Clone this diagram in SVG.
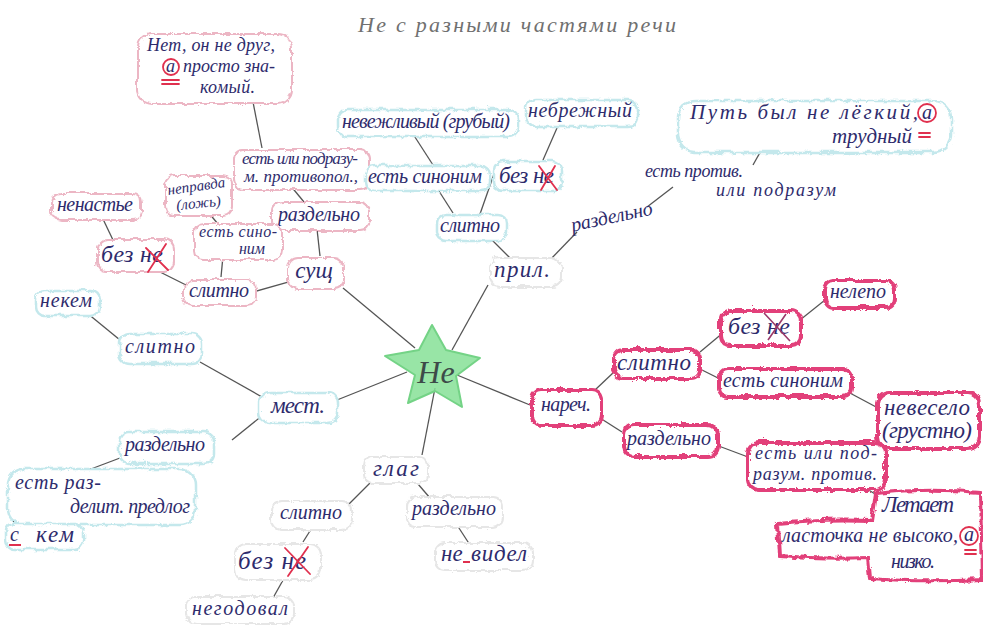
<svg xmlns="http://www.w3.org/2000/svg" width="983" height="625" viewBox="0 0 983 625">
<style>
.t{font-family:"Liberation Serif","DejaVu Serif",serif;font-style:italic;font-size:20px;fill:#2e2b6c;text-anchor:middle}
.s{text-anchor:start}
.b{font-size:23px}
.title{font-family:"Liberation Serif","DejaVu Serif",serif;font-style:italic;font-size:22px;fill:#707070}
.red{fill:#fff;stroke:#e2407a;stroke-width:4}
.pink{fill:#fff;stroke:#ecb6c4;stroke-width:2}
.cyan{fill:#fff;stroke:#c4e8ec;stroke-width:2.5}
.grey{fill:#fff;stroke:#e6e6e6;stroke-width:2}
.mark{fill:none;stroke:#e0304e;stroke-width:1.8;stroke-linecap:round}
#connectors line{stroke:#555;stroke-width:1.3}
</style>
<defs>
<filter id="wob" x="-15%" y="-30%" width="130%" height="160%">
<feTurbulence type="turbulence" baseFrequency="0.09" numOctaves="1" seed="3" result="n"/>
<feDisplacementMap in="SourceGraphic" in2="n" scale="5" xChannelSelector="R" yChannelSelector="G"/>
</filter>
</defs>
<rect width="983" height="625" fill="#fff"/>
<text class="title" x="358" y="32" textLength="318">Не  с разными   частями речи</text>

<g id="connectors">
<line x1="343" y1="288" x2="415" y2="348"/>
<line x1="488" y1="285" x2="452" y2="350"/>
<line x1="337" y1="400" x2="407" y2="372"/>
<line x1="422" y1="455" x2="435" y2="388"/>
<line x1="530" y1="405" x2="457" y2="375"/>
<line x1="288" y1="282" x2="253" y2="292"/>
<line x1="320" y1="256" x2="317" y2="229"/>
<line x1="304" y1="202" x2="290" y2="185"/>
<line x1="262" y1="148" x2="253" y2="102"/>
<line x1="190" y1="287" x2="150" y2="267"/>
<line x1="221" y1="277" x2="223" y2="256"/>
<line x1="218" y1="224" x2="208" y2="212"/>
<line x1="113" y1="240" x2="102" y2="217"/>
<line x1="510" y1="258" x2="490" y2="238"/>
<line x1="548" y1="262" x2="577" y2="232"/>
<line x1="453" y1="213" x2="437" y2="188"/>
<line x1="433" y1="165" x2="413" y2="134"/>
<line x1="480" y1="214" x2="494" y2="174"/>
<line x1="543" y1="160" x2="557" y2="128"/>
<line x1="647" y1="207" x2="673" y2="187"/>
<line x1="753" y1="165" x2="767" y2="140"/>
<line x1="262" y1="397" x2="200" y2="362"/>
<line x1="120" y1="340" x2="87" y2="313"/>
<line x1="263" y1="415" x2="232" y2="440"/>
<line x1="120" y1="458" x2="83" y2="472"/>
<line x1="43" y1="500" x2="13" y2="522"/>
<line x1="370" y1="483" x2="348" y2="505"/>
<line x1="418" y1="484" x2="430" y2="498"/>
<line x1="315" y1="523" x2="303" y2="542"/>
<line x1="287" y1="573" x2="273" y2="598"/>
<line x1="457" y1="525" x2="470" y2="545"/>
<line x1="595" y1="390" x2="614" y2="372"/>
<line x1="700" y1="352" x2="724" y2="332"/>
<line x1="800" y1="320" x2="825" y2="300"/>
<line x1="698" y1="368" x2="718" y2="378"/>
<line x1="848" y1="392" x2="878" y2="408"/>
<line x1="600" y1="418" x2="622" y2="432"/>
<line x1="716" y1="445" x2="748" y2="457"/>
<line x1="862" y1="486" x2="885" y2="500"/>
</g>

<g id="center">
<polygon points="432,325 446,350 480,358 456,376 462,407 435,391 408,403 415,375 385,356 419,350" fill="#86e096" fill-opacity="0.85" stroke="#74d386" stroke-width="2" stroke-linejoin="round"/>
<text class="t" x="436" y="383" style="font-size:32px;fill:#3d4a48">Не</text>
</g>

<g id="n-net">
<rect class="pink" x="136" y="32" width="154" height="70" rx="14" filter="url(#wob)"/>
<text class="t s" x="147" y="51" textLength="128" style="font-size:18px">Нет, он не друг,</text>
<text class="t s" x="166" y="72" style="font-size:18px">а</text>
<text class="t s" x="183" y="72" textLength="92" style="font-size:18px">просто зна-</text>
<text class="t s" x="200" y="93" textLength="55" style="font-size:18px">комый.</text>
<circle class="mark" cx="171" cy="67" r="8"/>
<path class="mark" d="M162 80 H179 M162 84 H179"/>
</g>
<g id="n-estpodraz">
<rect class="pink" x="232" y="148" width="136" height="40" rx="10" filter="url(#wob)"/>
<text class="t s" x="242" y="164" textLength="116" style="font-size:17px">есть или подразу-</text>
<text class="t s" x="244" y="182" textLength="114" style="font-size:17px">м. противопол.,</text>
</g>
<g id="n-razd-sush">
<rect class="pink" x="270" y="200" width="98" height="29" rx="10" filter="url(#wob)"/>
<text class="t" x="319" y="221" textLength="82">раздельно</text>
</g>
<g id="n-sush">
<rect class="pink" x="286" y="256" width="56" height="31" rx="10" filter="url(#wob)"/>
<text class="t b" x="314" y="278">сущ</text>
</g>
<g id="n-slitno-sush">
<rect class="pink" x="182" y="278" width="72" height="26" rx="9" filter="url(#wob)"/>
<text class="t" x="219" y="297" textLength="60">слитно</text>
</g>
<g id="n-estsino">
<rect class="pink" x="193" y="222" width="88" height="36" rx="9" filter="url(#wob)"/>
<text class="t" x="238" y="237" textLength="78" style="font-size:16px">есть сино-</text>
<text class="t" x="252" y="254" style="font-size:16px">ним</text>
</g>
<g id="n-nepravda">
<rect class="pink" x="164" y="174" width="66" height="40" rx="9" filter="url(#wob)"/>
<text class="t" x="197" y="191" textLength="58" style="font-size:15px" transform="rotate(-8 197 191)">неправда</text>
<text class="t" x="199" y="208" style="font-size:15px" transform="rotate(-6 199 208)">(ложь)</text>
</g>
<g id="n-bezne-sush">
<rect class="pink" x="96" y="238" width="76" height="32" rx="10" filter="url(#wob)"/>
<text class="t s" x="101" y="262" textLength="62" style="font-size:24px">без не</text>
<path class="mark" d="M146 248 L168 270 M166 244 L148 272"/>
</g>
<g id="n-nenastie">
<rect class="pink" x="50" y="192" width="90" height="26" rx="9" filter="url(#wob)"/>
<text class="t" x="95" y="211" textLength="76">ненастье</text>
</g>

<g id="n-pril">
<rect class="grey" x="488" y="256" width="72" height="29" rx="10" filter="url(#wob)"/>
<text class="t b" x="522" y="277" textLength="56">прил.</text>
</g>
<g id="n-slitno-pril">
<rect class="cyan" x="435" y="213" width="70" height="26" rx="9" filter="url(#wob)"/>
<text class="t" x="470" y="232" textLength="60">слитно</text>
</g>
<g id="n-sinonim-pril">
<rect class="cyan" x="364" y="164" width="124" height="25" rx="9" filter="url(#wob)"/>
<text class="t" x="425" y="183" textLength="114">есть синоним</text>
</g>
<g id="n-nevezh">
<rect class="cyan" x="336" y="108" width="180" height="27" rx="10" filter="url(#wob)"/>
<text class="t" x="426" y="128" textLength="168">невежливый (грубый)</text>
</g>
<g id="n-bezne-pril">
<rect class="cyan" x="492" y="160" width="68" height="29" rx="9" filter="url(#wob)"/>
<text class="t s b" x="499" y="183" textLength="55">без не</text>
<path class="mark" d="M539 166 L557 190 M555 166 L541 190"/>
</g>
<g id="n-nebrezh">
<rect class="cyan" x="524" y="98" width="112" height="27" rx="10" filter="url(#wob)"/>
<text class="t" x="580" y="117" textLength="104">небрежный</text>
</g>
<g id="n-razd-pril">
<text class="t" x="613" y="223" textLength="83" transform="rotate(-12 613 223)">раздельно</text>
</g>
<g id="n-estprotiv">
<text class="t s" x="645" y="177" textLength="98" style="font-size:18px">есть против.</text>
<text class="t s" x="716" y="196" textLength="120" style="font-size:18px">или подразум</text>
</g>
<g id="n-put">
<rect class="cyan" x="676" y="99" width="274" height="52" rx="18" filter="url(#wob)"/>
<text class="t s" x="690" y="119" textLength="228" style="font-size:21px">Путь был не лёгкий,</text>
<text class="t s" x="922" y="119">а</text>
<circle class="mark" cx="927" cy="113" r="9"/>
<text class="t s" x="832" y="143" textLength="80" style="font-size:21px">трудный</text>
<path class="mark" d="M919 133 H930 M919 137 H930"/>
</g>

<g id="n-mest">
<rect class="cyan" x="258" y="391" width="78" height="30" rx="10" filter="url(#wob)"/>
<text class="t b" x="298" y="413" textLength="54">мест.</text>
</g>
<g id="n-slitno-mest">
<rect class="cyan" x="118" y="332" width="82" height="30" rx="10" filter="url(#wob)"/>
<text class="t" x="160" y="353" textLength="70">слитно</text>
</g>
<g id="n-nekem">
<rect class="cyan" x="34" y="289" width="64" height="25" rx="9" filter="url(#wob)"/>
<text class="t" x="66" y="307" textLength="52">некем</text>
</g>
<g id="n-razd-mest">
<rect class="cyan" x="118" y="430" width="94" height="32" rx="10" filter="url(#wob)"/>
<text class="t" x="165" y="451" textLength="80">раздельно</text>
</g>
<g id="n-estraz">
<rect class="cyan" x="6" y="467" width="188" height="56" rx="16" filter="url(#wob)"/>
<text class="t s" x="15" y="489" textLength="86">есть раз-</text>
<text class="t s" x="70" y="513" textLength="120">делит. предлог</text>
</g>
<g id="n-skem">
<rect class="cyan" x="4" y="522" width="78" height="26" rx="9" filter="url(#wob)"/>
<text class="t s" x="10" y="541">с</text>
<text class="t s b" x="36" y="542" textLength="38">кем</text>
<path d="M9 545 H21" stroke="#e0304e" stroke-width="2"/>
</g>

<g id="n-glag">
<rect class="grey" x="362" y="455" width="64" height="27" rx="9" filter="url(#wob)"/>
<text class="t b" x="396" y="476" textLength="46">глаг</text>
</g>
<g id="n-slitno-glag">
<rect class="grey" x="270" y="499" width="80" height="29" rx="10" filter="url(#wob)"/>
<text class="t" x="311" y="519" textLength="62">слитно</text>
</g>
<g id="n-razd-glag">
<rect class="grey" x="405" y="495" width="96" height="31" rx="10" filter="url(#wob)"/>
<text class="t" x="454" y="515" textLength="84">раздельно</text>
</g>
<g id="n-bezne-glag">
<rect class="grey" x="233" y="542" width="86" height="36" rx="11" filter="url(#wob)"/>
<text class="t s" x="238" y="569" textLength="68" style="font-size:25px">без не</text>
<path class="mark" d="M285 548 L310 574 M308 547 L288 576"/>
</g>
<g id="n-nevidel">
<rect class="grey" x="433" y="541" width="98" height="28" rx="10" filter="url(#wob)"/>
<text class="t s b" x="441" y="561">не</text>
<path d="M463 562 H470" stroke="#e0304e" stroke-width="2"/>
<text class="t s b" x="471" y="561" textLength="56">видел</text>
</g>
<g id="n-negodoval">
<rect class="grey" x="184" y="595" width="108" height="27" rx="10" filter="url(#wob)"/>
<text class="t" x="240" y="615" textLength="96">негодовал</text>
</g>

<g id="n-narech">
<rect class="red" x="530" y="388" width="70" height="36" rx="10" filter="url(#wob)"/>
<text class="t" x="566" y="411" textLength="50">нареч.</text>
</g>
<g id="n-slitno-narech">
<rect class="red" x="612" y="348" width="86" height="29" rx="9" filter="url(#wob)"/>
<text class="t b" x="654" y="370" textLength="74">слитно</text>
</g>
<g id="n-bezne-narech">
<rect class="red" x="719" y="309" width="80" height="35" rx="10" filter="url(#wob)"/>
<text class="t s" x="728" y="334" textLength="62" style="font-size:24px">без не</text>
<path d="M764 313 L790 341 M786 314 L768 340" stroke="#9a3a6a" stroke-width="1.6" fill="none"/>
</g>
<g id="n-nelepo">
<rect class="red" x="823" y="279" width="70" height="27" rx="9" filter="url(#wob)"/>
<text class="t" x="858" y="298" textLength="56">нелепо</text>
</g>
<g id="n-sinonim-narech">
<rect class="red" x="717" y="367" width="133" height="28" rx="9" filter="url(#wob)"/>
<text class="t" x="783" y="387" textLength="120">есть синоним</text>
</g>
<g id="n-nevesel">
<rect class="red" x="876" y="391" width="102" height="56" rx="12" filter="url(#wob)"/>
<text class="t b" x="927" y="415" textLength="86">невесело</text>
<text class="t b" x="927" y="438" textLength="90">(грустно)</text>
</g>
<g id="n-razd-narech">
<rect class="red" x="622" y="423" width="94" height="32" rx="10" filter="url(#wob)"/>
<text class="t" x="669" y="445" textLength="84">раздельно</text>
</g>
<g id="n-estpod-narech">
<rect class="red" x="746" y="441" width="138" height="47" rx="11" filter="url(#wob)"/>
<text class="t s" x="755" y="459" textLength="122" style="font-size:18px">есть или под-</text>
<text class="t s" x="753" y="480" textLength="124" style="font-size:18px">разум. против.</text>
</g>
<g id="n-letaet">
<path class="red" d="M874 492 Q925 486 979 491 L981 578 Q920 581 868 577 L866 556 Q820 558 778 554 L776 522 Q822 517 870 519 Z" filter="url(#wob)"/>
<text class="t b" x="918" y="512" textLength="72">Летает</text>
<text class="t s" x="782" y="542" textLength="176">ласточка не высоко,</text>
<text class="t s" x="964" y="541">а</text>
<circle class="mark" cx="969" cy="536" r="9"/>
<path class="mark" d="M965 550 H976 M965 554 H976"/>
<text class="t" x="913" y="568" textLength="44">низко.</text>
</g>
</svg>
